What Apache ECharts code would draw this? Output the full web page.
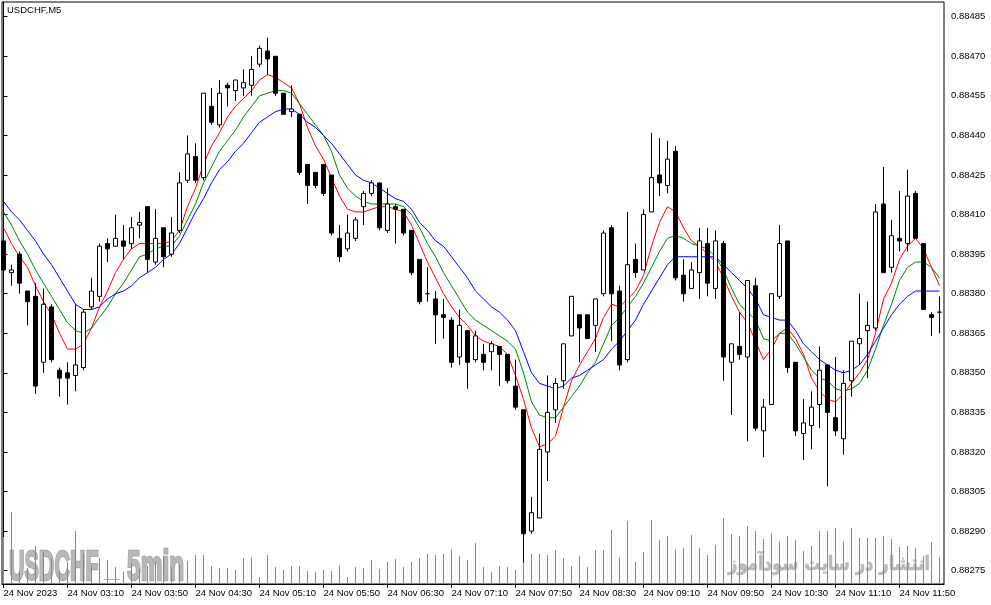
<!DOCTYPE html>
<html><head><meta charset="utf-8">
<script src="https://cdn.jsdelivr.net/npm/echarts@6/dist/echarts.min.js"></script>
<style>html,body{margin:0;padding:0;background:#fff}#c{width:991px;height:605px}</style>
</head><body><div id="c"></div>
<script>
const opens = [
0.88400,0.88388,0.88395,0.88381,0.88379,0.88354,0.88375,0.88351,0.88350,0.88349,
0.88352,0.88375,0.88379,0.88399,0.88398,0.88400,0.88399,0.88406,0.88413,0.88392,
0.88405,0.88395,0.88404,0.88423,0.88432,0.88424,0.88451,0.88444,0.88459,0.88457,
0.88458,0.88459,0.88467,0.88472,0.88470,0.88456,0.88449,0.88448,0.88429,0.88426,
0.88429,0.88425,0.88401,0.88397,0.88401,0.88413,0.88418,0.88422,0.88404,0.88413,
0.88412,0.88404,0.88393,0.88380,0.88378,0.88372,0.88370,0.88356,0.88366,0.88355,
0.88357,0.88358,0.88360,0.88357,0.88345,0.88336,0.88290,0.88295,0.88320,0.88336,
0.88347,0.88364,0.88372,0.88372,0.88368,0.88380,0.88405,0.88381,0.88355,0.88393,
0.88389,0.88411,0.88425,0.88421,0.88434,0.88387,0.88382,0.88388,0.88399,0.88382,
0.88399,0.88354,0.88360,0.88356,0.88383,0.88328,0.88338,0.88379,0.88400,0.88354,
0.88327,0.88330,0.88338,0.88353,0.88333,0.88325,0.88347,0.88361,0.88366,0.88367,
0.88414,0.88390,0.88401,0.88399,0.88418,0.88399,0.88372,0.88373];
const highs = [
0.88400,0.88391,0.88396,0.88381,0.88384,0.88382,0.88376,0.88352,0.88354,0.88376,
0.88374,0.88386,0.88399,0.88401,0.88410,0.88406,0.88409,0.88411,0.88413,0.88412,
0.88405,0.88409,0.88426,0.88440,0.88437,0.88456,0.88458,0.88461,0.88460,0.88461,
0.88465,0.88470,0.88474,0.88477,0.88470,0.88456,0.88459,0.88448,0.88429,0.88426,
0.88429,0.88425,0.88406,0.88410,0.88409,0.88419,0.88423,0.88422,0.88420,0.88414,
0.88412,0.88404,0.88393,0.88390,0.88381,0.88378,0.88371,0.88374,0.88366,0.88366,
0.88361,0.88362,0.88360,0.88357,0.88355,0.88336,0.88303,0.88327,0.88349,0.88348,
0.88361,0.88379,0.88372,0.88372,0.88378,0.88404,0.88406,0.88383,0.88411,0.88399,
0.88412,0.88441,0.88439,0.88438,0.88436,0.88393,0.88392,0.88405,0.88405,0.88404,
0.88400,0.88361,0.88373,0.88385,0.88386,0.88340,0.88380,0.88406,0.88400,0.88354,
0.88340,0.88343,0.88360,0.88353,0.88356,0.88351,0.88362,0.88380,0.88377,0.88414,
0.88428,0.88408,0.88419,0.88427,0.88419,0.88399,0.88373,0.88379];
const lows = [
0.88382,0.88383,0.88380,0.88368,0.88342,0.88350,0.88354,0.88341,0.88338,0.88343,
0.88351,0.88374,0.88377,0.88392,0.88398,0.88393,0.88397,0.88401,0.88388,0.88391,
0.88390,0.88394,0.88403,0.88422,0.88422,0.88423,0.88444,0.88443,0.88451,0.88453,
0.88455,0.88455,0.88466,0.88463,0.88455,0.88448,0.88447,0.88425,0.88414,0.88420,
0.88417,0.88402,0.88392,0.88396,0.88400,0.88406,0.88417,0.88404,0.88403,0.88399,
0.88402,0.88387,0.88376,0.88377,0.88361,0.88363,0.88352,0.88353,0.88344,0.88354,
0.88351,0.88351,0.88345,0.88346,0.88336,0.88278,0.88289,0.88295,0.88309,0.88331,
0.88344,0.88364,0.88354,0.88363,0.88358,0.88379,0.88362,0.88351,0.88354,0.88386,
0.88389,0.88411,0.88417,0.88418,0.88385,0.88377,0.88382,0.88378,0.88379,0.88378,
0.88347,0.88334,0.88355,0.88324,0.88328,0.88318,0.88338,0.88378,0.88350,0.88326,
0.88317,0.88321,0.88329,0.88307,0.88326,0.88319,0.88341,0.88353,0.88348,0.88366,
0.88388,0.88388,0.88396,0.88396,0.88401,0.88374,0.88364,0.88365];
const closes = [
0.88389,0.88389,0.88384,0.88377,0.88345,0.88376,0.88355,0.88348,0.88348,0.88353,
0.88373,0.88381,0.88398,0.88397,0.88401,0.88398,0.88405,0.88407,0.88393,0.88401,
0.88394,0.88403,0.88422,0.88433,0.88423,0.88456,0.88445,0.88456,0.88458,0.88461,
0.88460,0.88465,0.88473,0.88469,0.88456,0.88448,0.88450,0.88426,0.88421,0.88421,
0.88418,0.88403,0.88394,0.88403,0.88408,0.88418,0.88422,0.88405,0.88414,0.88412,
0.88403,0.88388,0.88377,0.88380,0.88372,0.88371,0.88354,0.88368,0.88354,0.88364,
0.88354,0.88361,0.88357,0.88347,0.88337,0.88289,0.88297,0.88321,0.88335,0.88346,
0.88361,0.88379,0.88367,0.88363,0.88378,0.88403,0.88380,0.88353,0.88391,0.88388,
0.88410,0.88424,0.88422,0.88431,0.88386,0.88380,0.88389,0.88400,0.88384,0.88400,
0.88356,0.88361,0.88357,0.88385,0.88329,0.88337,0.88380,0.88399,0.88352,0.88328,
0.88331,0.88337,0.88351,0.88335,0.88328,0.88346,0.88362,0.88363,0.88368,0.88411,
0.88388,0.88402,0.88400,0.88417,0.88401,0.88374,0.88371,0.88373];
const volumes = [
47,72,13,16,38,32,26,13,22,53,
31,19,26,24,17,12,21,15,18,22,
28,17,19,23,29,29,18,16,16,14,
26,27,7,29,17,14,18,18,13,12,
14,13,19,7,17,16,24,15,22,25,
17,22,26,30,29,30,35,28,24,41,
17,12,18,17,14,21,30,30,29,34,
26,18,28,17,34,34,54,27,63,22,
32,64,44,48,35,36,49,36,29,39,
66,50,48,58,53,45,51,43,48,44,
33,38,53,53,56,43,56,46,46,46,
48,45,37,38,36,28,42,27];
const maRed = [
0.88405,0.88399,0.88394,0.88390,0.88383,0.88377,0.88372,0.88365,0.88359,0.88359,
0.88361,0.88367,0.88375,0.88381,0.88388,0.88393,0.88397,0.88399,0.88399,0.88399,
0.88399,0.88400,0.88404,0.88413,0.88420,0.88429,0.88436,0.88441,0.88447,0.88451,
0.88454,0.88457,0.88461,0.88463,0.88462,0.88460,0.88458,0.88452,0.88443,0.88436,
0.88431,0.88424,0.88417,0.88412,0.88411,0.88411,0.88412,0.88413,0.88413,0.88412,
0.88411,0.88406,0.88399,0.88392,0.88386,0.88380,0.88375,0.88371,0.88368,0.88364,
0.88362,0.88361,0.88360,0.88357,0.88349,0.88340,0.88329,0.88322,0.88323,0.88326,
0.88337,0.88347,0.88353,0.88358,0.88363,0.88371,0.88376,0.88375,0.88378,0.88381,
0.88387,0.88398,0.88407,0.88413,0.88411,0.88405,0.88400,0.88398,0.88395,0.88392,
0.88386,0.88379,0.88373,0.88369,0.88362,0.88355,0.88359,0.88365,0.88367,0.88363,
0.88357,0.88348,0.88343,0.88340,0.88339,0.88342,0.88346,0.88350,0.88355,0.88365,
0.88378,0.88384,0.88393,0.88398,0.88401,0.88397,0.88390,0.88383];
const maGreen = [
0.88411,0.88406,0.88400,0.88395,0.88389,0.88384,0.88379,0.88374,0.88369,0.88366,
0.88365,0.88367,0.88371,0.88375,0.88380,0.88384,0.88389,0.88394,0.88395,0.88397,
0.88398,0.88398,0.88402,0.88408,0.88414,0.88422,0.88428,0.88434,0.88438,0.88442,
0.88447,0.88451,0.88455,0.88456,0.88457,0.88457,0.88456,0.88452,0.88448,0.88444,
0.88440,0.88434,0.88425,0.88420,0.88417,0.88415,0.88414,0.88414,0.88414,0.88414,
0.88413,0.88410,0.88405,0.88399,0.88394,0.88388,0.88383,0.88378,0.88373,0.88370,
0.88368,0.88366,0.88364,0.88362,0.88359,0.88350,0.88339,0.88334,0.88333,0.88333,
0.88337,0.88341,0.88345,0.88350,0.88354,0.88361,0.88368,0.88371,0.88375,0.88379,
0.88384,0.88390,0.88396,0.88401,0.88402,0.88401,0.88399,0.88398,0.88397,0.88394,
0.88389,0.88382,0.88376,0.88373,0.88370,0.88363,0.88362,0.88365,0.88365,0.88361,
0.88356,0.88351,0.88348,0.88347,0.88344,0.88343,0.88344,0.88346,0.88351,0.88359,
0.88368,0.88376,0.88385,0.88390,0.88392,0.88392,0.88390,0.88386];
const maBlue = [
0.88415,0.88411,0.88408,0.88404,0.88400,0.88395,0.88391,0.88386,0.88381,0.88376,
0.88374,0.88374,0.88375,0.88378,0.88380,0.88381,0.88383,0.88386,0.88388,0.88390,
0.88393,0.88395,0.88399,0.88405,0.88411,0.88416,0.88422,0.88427,0.88430,0.88434,
0.88437,0.88441,0.88445,0.88447,0.88449,0.88450,0.88450,0.88448,0.88445,0.88443,
0.88440,0.88437,0.88433,0.88429,0.88425,0.88423,0.88422,0.88420,0.88418,0.88416,
0.88415,0.88412,0.88407,0.88404,0.88400,0.88398,0.88394,0.88390,0.88386,0.88381,
0.88378,0.88375,0.88373,0.88370,0.88366,0.88358,0.88350,0.88346,0.88345,0.88344,
0.88345,0.88348,0.88349,0.88351,0.88353,0.88355,0.88359,0.88362,0.88366,0.88370,
0.88376,0.88381,0.88386,0.88391,0.88394,0.88394,0.88394,0.88394,0.88394,0.88394,
0.88391,0.88388,0.88385,0.88382,0.88378,0.88372,0.88371,0.88370,0.88370,0.88366,
0.88361,0.88358,0.88355,0.88353,0.88351,0.88350,0.88351,0.88353,0.88357,0.88362,
0.88367,0.88372,0.88376,0.88379,0.88381,0.88381,0.88381,0.88381];
const yTicks = [0.88275,0.88290,0.88305,0.88320,0.88335,0.88350,0.88365,0.88380,
  0.88395,0.88410,0.88425,0.88440,0.88455,0.88470,0.88485];
const xTickIndex = [0,8,16,24,32,40,48,56,64,72,80,88,96,104,112];
const xTickLabels = ['24 Nov 2023','24 Nov 03:10','24 Nov 03:50','24 Nov 04:30','24 Nov 05:10',
  '24 Nov 05:50','24 Nov 06:30','24 Nov 07:10','24 Nov 07:50','24 Nov 08:30','24 Nov 09:10',
  '24 Nov 09:50','24 Nov 10:30','24 Nov 11:10','24 Nov 11:50'];

const FONT = '"Liberation Sans", Arial, sans-serif';
const candles = opens.map((o, i) => [i, o, closes[i], lows[i], highs[i]]);
const pair = arr => arr.map((v, i) => [i, v]);

const chart = echarts.init(document.getElementById('c'), null, {renderer: 'canvas'});
chart.setOption({
  animation: false,
  backgroundColor: '#ffffff',
  grid: {left: 2, top: 2, right: 47, bottom: 21, show: true, borderColor: '#000', borderWidth: 1, backgroundColor: 'transparent'},
  xAxis: {
    type: 'value', min: -0.1875, max: 117.5625,
    axisLine: {show: true, lineStyle: {color: '#000', width: 1}},
    axisTick: {show: true, length: 4, customValues: xTickIndex, lineStyle: {color: '#000'}},
    axisLabel: {customValues: xTickIndex, align: 'left', margin: 4, fontSize: 9.5, fontFamily: FONT, color: '#000',
      formatter: v => { const k = xTickIndex.indexOf(Math.round(v)); return k >= 0 ? xTickLabels[k] : ''; }},
    splitLine: {show: false}
  },
  yAxis: [{
    type: 'value', position: 'right', min: 0.8826996, max: 0.8849057,
    axisLine: {show: true, lineStyle: {color: '#000', width: 1}},
    axisTick: {show: true, length: 4, customValues: yTicks, lineStyle: {color: '#000'}},
    axisLabel: {customValues: yTicks, margin: 7, fontSize: 9.5, fontFamily: FONT, color: '#000',
      formatter: v => v.toFixed(5)},
    splitLine: {show: false}
  }, {
    type: 'value', show: false, min: 0, max: 582
  }],
  graphic: [
    {type: 'text', x: 7, y: 5, z: 10, style: {text: 'USDCHF,M5', font: '9.5px ' + FONT, fill: '#000'}},
    {type: 'text', x: 9, y: 568, scaleX: 0.5, z: 0, style: {text: 'USDCHF', font: 'bold 43px ' + FONT, fill: '#b8b8b8', stroke: '#a9a9a9', lineWidth: 2.5, verticalAlign: 'middle'}},
    {type: 'text', x: 127, y: 568, scaleX: 0.57, z: 0, style: {text: '5min', font: 'bold 43px ' + FONT, fill: '#b8b8b8', stroke: '#a9a9a9', lineWidth: 2.5, verticalAlign: 'middle'}},
    {type: 'line', z: 0, shape: {x1: 104, y1: 579.5, x2: 120, y2: 579.5}, style: {stroke: '#b5b5b5', lineWidth: 1}},
    {type: 'text', x: 930, y: 565, scaleX: 0.82, z: 0, style: {text: 'انتشار در سایت سودآموز', font: 'bold 20px "DejaVu Sans"', fill: '#b8b8b8', stroke: '#b8b8b8', lineWidth: 0.6, align: 'right', verticalAlign: 'middle'}}
  ],
  series: [
    {type: 'bar', name: 'Volume', xAxisIndex: 0, yAxisIndex: 1, data: pair(volumes), barWidth: 1, z: 2,
      itemStyle: {color: '#3cbc3c'}, silent: true},
    {type: 'line', name: 'MA red', data: pair(maRed), showSymbol: false, symbol: 'none', z: 3,
      lineStyle: {color: '#ff0000', width: 1}},
    {type: 'line', name: 'MA green', data: pair(maGreen), showSymbol: false, symbol: 'none', z: 3,
      lineStyle: {color: '#008000', width: 1}},
    {type: 'line', name: 'MA blue', data: pair(maBlue), showSymbol: false, symbol: 'none', z: 3,
      lineStyle: {color: '#0000ff', width: 1}},
    {type: 'candlestick', name: 'USDCHF', data: candles, barWidth: 4, z: 4,
      itemStyle: {color: '#ffffff', color0: '#000000', borderColor: '#000000', borderColor0: '#000000', borderWidth: 1}}
  ]
});
</script>
</body></html>
